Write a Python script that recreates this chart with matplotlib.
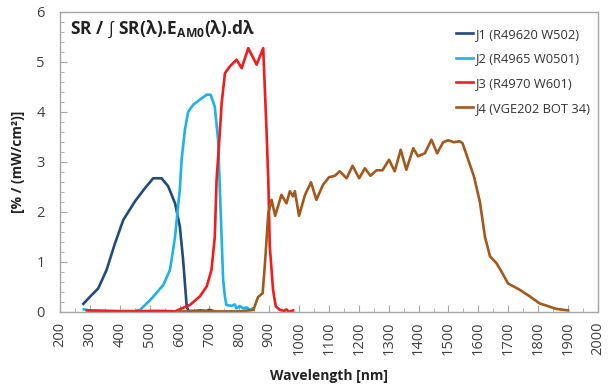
import numpy as np
import matplotlib.pyplot as plt
from matplotlib.ticker import MultipleLocator

plt.rcParams['font.family'] = ['Open Sans', 'DejaVu Sans']
plt.rcParams['mathtext.fontset'] = 'custom'
plt.rcParams['mathtext.rm'] = 'Open Sans'
plt.rcParams['mathtext.bf'] = 'Open Sans:bold'

# -----------------------------
# data
# -----------------------------
j1_wl = [278, 300, 328, 356, 384, 412, 451, 484, 512, 540, 562, 585, 601, 612, 624, 630,
         650, 670, 690, 700, 712]
j1_sr = [0.16, 0.30, 0.47, 0.84, 1.37, 1.84, 2.21, 2.47, 2.67, 2.67, 2.51, 2.17, 1.71, 1.04,
         0.11, 0.02, 0.02, 0.03, 0.02, 0.04, 0.02]

j2_wl = [280, 300, 350, 400, 450, 468, 507, 546, 568, 575, 585, 596, 601, 607, 618, 629, 646,
         668, 691, 704, 718, 729, 735, 746, 752, 757, 774, 785, 791, 802, 813, 824, 836, 845]
j2_sr = [0.05, 0.03, 0.02, 0.02, 0.02, 0.04, 0.27, 0.54, 0.84, 1.10, 1.50, 2.17, 2.44, 3.04,
         3.64, 4.00, 4.14, 4.24, 4.34, 4.34, 4.10, 3.44, 2.44, 0.64, 0.30, 0.14, 0.12, 0.15,
         0.07, 0.12, 0.07, 0.09, 0.04, 0.07]

j3_wl = [290, 350, 400, 450, 500, 550, 585, 607, 635, 668, 691, 707, 718, 724, 735, 741, 752,
         769, 791, 808, 830, 858, 880, 891, 897, 902, 913, 922, 936, 950, 958, 966, 980]
j3_sr = [0.03, 0.02, 0.01, 0.01, 0.02, 0.02, 0.01, 0.07, 0.14, 0.31, 0.51, 0.84, 1.50, 2.64,
         3.60, 4.17, 4.77, 4.91, 5.04, 4.87, 5.27, 4.94, 5.27, 3.64, 2.64, 1.31, 0.44, 0.11,
         0.04, 0.02, 0.05, 0.00, 0.03]

j4_wl = [600, 650, 700, 750, 800, 847, 863, 878, 886, 897, 908, 920, 941, 958, 969, 980, 986,
         1000, 1020, 1040, 1058, 1080, 1100, 1120, 1136, 1159, 1179, 1201, 1220, 1239, 1259,
         1279, 1301, 1320, 1340, 1359, 1382, 1398, 1421, 1443, 1462, 1482, 1499, 1518, 1538,
         1547, 1566, 1585, 1605, 1622, 1639, 1661, 1677, 1699, 1739, 1772, 1805, 1861, 1900]
j4_sr = [0.01, 0.01, 0.01, 0.01, 0.01, 0.04, 0.30, 0.37, 0.97, 1.97, 2.24, 1.92, 2.34, 2.17,
         2.41, 2.31, 2.41, 1.92, 2.34, 2.59, 2.24, 2.54, 2.69, 2.72, 2.81, 2.67, 2.92, 2.67,
         2.87, 2.72, 2.83, 2.83, 3.04, 2.81, 3.24, 2.84, 3.27, 3.11, 3.17, 3.44, 3.17, 3.39,
         3.43, 3.39, 3.41, 3.37, 3.04, 2.71, 2.20, 1.50, 1.11, 0.97, 0.81, 0.57, 0.44, 0.31,
         0.17, 0.06, 0.03]

labels = ["J1 (R49620 W502)", "J2 (R4965 W0501)", "J3 (R4970 W601)", "J4 (VGE202 BOT 34)"]
colors = ["#234A7C", "#1DB2EA", "#F21C1C", "#A3581C"]

# -----------------------------
# plot
# -----------------------------
fig = plt.figure(figsize=(6.12, 3.87), dpi=100)
ax = fig.add_axes([0.098, 0.194, 0.879, 0.776])

for wl, sr, lab, col in zip([j1_wl, j2_wl, j3_wl, j4_wl], [j1_sr, j2_sr, j3_sr, j4_sr], labels, colors):
    ax.plot(wl, sr, color=col, lw=1.9, label=lab, solid_joinstyle='round')

ax.set_xlim(200, 2000)
ax.set_ylim(0, 6)
ax.xaxis.set_major_locator(MultipleLocator(100))
ax.xaxis.set_minor_locator(MultipleLocator(50))
ax.yaxis.set_major_locator(MultipleLocator(1))
ax.yaxis.set_minor_locator(MultipleLocator(0.2))
ax.tick_params(which='both', direction='in', color='#A6A6A6', labelcolor='#404040', labelsize=10.5)
ax.tick_params(which='major', length=5)
ax.tick_params(which='minor', length=3)
ax.tick_params(axis='x', which='both', labelrotation=90, pad=7)
ax.tick_params(axis='y', which='both', pad=11)
for lab in ax.get_xticklabels():
    lab.set_verticalalignment('top')
for s in ax.spines.values():
    s.set_color('#A6A6A6')
    s.set_linewidth(1.0)

ax.set_xlabel("Wavelength [nm]", fontweight='bold', fontsize=10, color='#222222', labelpad=10)
ax.set_ylabel("[% / (mW/cm²)]", fontweight='bold', fontsize=10, color='#222222', labelpad=8)

ax.text(0.018, 0.94, r"SR / $\int$ SR(λ).E$_{\mathbf{AM0}}$(λ).dλ", transform=ax.transAxes,
        fontsize=12.5, fontweight='bold', color='#222222', va='center', ha='left')

ax.legend(loc='upper left', bbox_to_anchor=(0.715, 0.985), frameon=False, fontsize=9.3,
          handlelength=1.3, handletextpad=0.25, labelspacing=0.9, labelcolor='#333333')

fig.savefig("out.png", dpi=100)
